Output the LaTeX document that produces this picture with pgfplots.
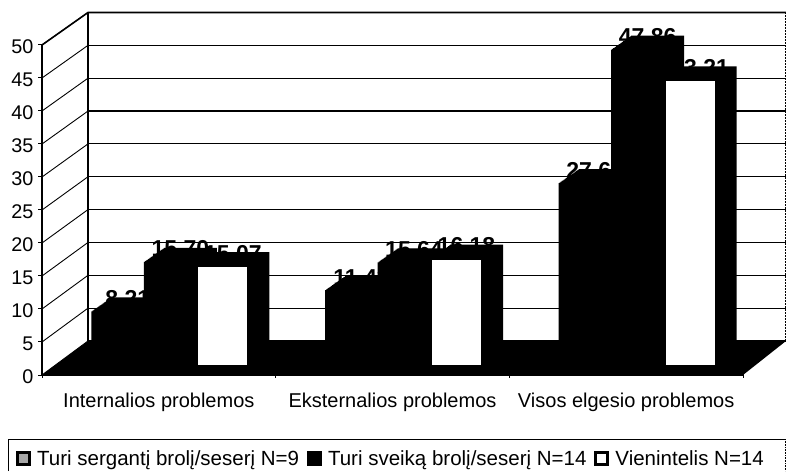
\documentclass[border=0pt]{standalone}
\usepackage{fontspec}
\setmainfont{Liberation Sans}
\usepackage{pgfplots}
\usepackage{pgfplotstable}
\pgfplotsset{compat=1.18}
\pgfplotstableread{
x v
0 8.21
1 11.43
2 27.64
}\seriesA
\pgfplotstableread{
x v
0 15.70
1 15.64
2 47.86
}\seriesB
\pgfplotstableread{
x v
0 15.07
1 16.18
2 43.21
}\seriesC
\pgfplotsset{
  barlabel/.style={forget plot,ybar,bar width=1pt,bar shift=#1,draw=none,fill=none,
    xshift=21.5pt,yshift=14.5pt,
    nodes near coords,point meta=y,
    every node near coord/.style={anchor=base,inner sep=0pt,xshift=#1,black,
      font=\fontsize{23}{24}\selectfont\bfseries,
      /pgf/number format/fixed,/pgf/number format/precision=2,/pgf/number format/fixed zerofill,
      /pgf/number format/assume math mode=true}},
  swatch/.style={legend image code/.code={
    \path[draw=none,fill=none] (0pt,0pt) -- (19pt,0pt);
    \draw[fill=#1,draw=black,line width=3pt] (1.5pt,-6pt) rectangle (13.5pt,6pt);}},
}
\begin{document}
\begin{tikzpicture}[x=1pt,y=1pt]
\useasboundingbox (0,0) rectangle (786,471);
% walls (pixel geometry, y up)
\foreach \k in {0,...,10}{
  \pgfmathsetmacro\yf{96+33*\k}
  \pgfmathsetmacro\yb{130+32.85*\k}
  \draw[line width=0.9pt] (42,\yf) -- (88,\yb);
  \draw[line width=1.1pt] (88,\yb) -- (786,\yb);
  \draw[line width=1pt] (38,\yf) -- (42,\yf);
}
\draw[line width=1.1pt] (88,130) -- (88,458.5);
\draw[line width=1.6pt] (42,426) -- (88,458.5) -- (786,458.5);
\draw[line width=0.5pt,densely dotted] (785.5,130) -- (785.5,458.5);
\fill[black] (42,96) -- (743,96) -- (786,130) -- (88,130) -- cycle;
% legend frame
\draw[line width=1pt] (8,0) -- (8,32) -- (785,32);
\draw[line width=0.6pt,densely dotted] (785,32) -- (785,0);
\begin{axis}[
  at={(42pt,96pt)},anchor=south west,
  scale only axis,width=701pt,height=330pt,
  xmin=-0.5,xmax=2.5,ymin=0,ymax=50,
  clip=false,
  axis x line=bottom,axis y line=left,
  axis line style={-,line width=1.1pt},
  xtick={0,1,2},
  xticklabels={Internalios problemos,Eksternalios problemos,Visos elgesio problemos},
  minor xtick={-0.5,0.5,1.5,2.5},
  major x tick style={draw=none},
  minor x tick style={line width=0.8pt,black},
  minor tick length=5pt,
  ytick={0,5,...,50},
  major y tick style={draw=none},
  /pgf/number format/assume math mode=true,
  ticklabel style={font=\fontsize{19.8}{21}\selectfont},
  yticklabel style={xshift=-3pt,yshift=-2pt},
  xticklabel style={yshift=-12pt,font=\fontsize{20}{22}\selectfont},
  legend columns=3,
  legend style={at={(-26pt,-96pt)},anchor=south west,draw=none,fill=none,inner sep=0pt,
    yshift=2pt,
    font=\fontsize{20.5}{22}\selectfont,
    /tikz/every even column/.append style={column sep=6pt}},
  legend cell align=left,
]
\pgfplotsinvokeforeach{0,1,...,20}{
  \addplot[forget plot,ybar,bar width=53pt,bar shift=-52.5pt,fill=black,draw=none,
    xshift={11.5pt+#1pt},yshift={9.5pt+0.7pt*#1}] table[x=x,y=v]{\seriesA};
}
\addplot[barlabel=-52.5pt] table[x=x,y=v]{\seriesA};
\pgfplotsinvokeforeach{0,1,...,20}{
  \addplot[forget plot,ybar,bar width=53pt,bar shift=0pt,fill=black,draw=none,
    xshift={11.5pt+#1pt},yshift={9.5pt+0.7pt*#1}] table[x=x,y=v]{\seriesB};
}
\addplot[barlabel=0pt] table[x=x,y=v]{\seriesB};
\pgfplotsinvokeforeach{1,...,20}{
  \addplot[forget plot,ybar,bar width=53pt,bar shift=52.5pt,fill=black,draw=none,
    xshift={11.5pt+#1pt},yshift={9.5pt+0.7pt*#1}] table[x=x,y=v]{\seriesC};
}
\addplot[forget plot,ybar,bar width=51pt,bar shift=52.5pt,fill=white,draw=black,line width=2pt,
    xshift=11.5pt,yshift=9.5pt] table[x=x,y=v]{\seriesC};
\addplot[barlabel=52.5pt] table[x=x,y=v]{\seriesC};
\addlegendimage{swatch=black!35}
\addlegendentry{Turi sergantį brolį/seserį N=9}
\addlegendimage{swatch=black}
\addlegendentry{Turi sveiką brolį/seserį N=14}
\addlegendimage{swatch=white}
\addlegendentry{Vienintelis N=14}
\end{axis}
\end{tikzpicture}
\end{document}
